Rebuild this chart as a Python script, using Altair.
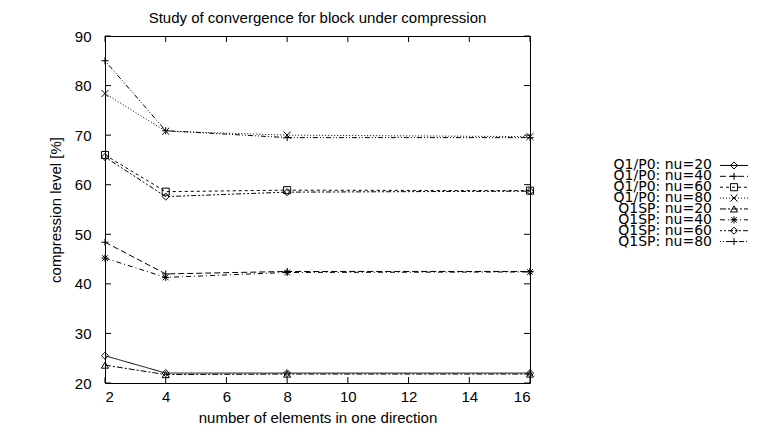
import altair as alt
import pandas as pd

x_vals = [2, 4, 8, 16]
series = ["Q1/P0: nu=20", "Q1/P0: nu=40", "Q1/P0: nu=60", "Q1/P0: nu=80",
          "Q1SP: nu=20", "Q1SP: nu=40", "Q1SP: nu=60", "Q1SP: nu=80"]
q1p0_nu20 = [25.5, 22.0, 22.0, 22.0]
q1p0_nu40 = [48.4, 42.0, 42.5, 42.5]
q1p0_nu60 = [66.0, 58.6, 58.9, 58.8]
q1p0_nu80 = [78.4, 70.8, 70.0, 69.7]
q1sp_nu20 = [23.6, 21.7, 21.8, 21.8]
q1sp_nu40 = [45.2, 41.3, 42.3, 42.4]
q1sp_nu60 = [65.6, 57.6, 58.5, 58.7]
q1sp_nu80 = [85.0, 70.9, 69.5, 69.5]
x_ticks = [2, 4, 6, 8, 10, 12, 14, 16]
y_ticks = [20, 30, 40, 50, 60, 70, 80, 90]

all_vals = [q1p0_nu20, q1p0_nu40, q1p0_nu60, q1p0_nu80,
            q1sp_nu20, q1sp_nu40, q1sp_nu60, q1sp_nu80]
rows = []
for s, vals in zip(series, all_vals):
    for x, v in zip(x_vals, vals):
        rows.append({"series": s, "x": x, "y": v})
df = pd.DataFrame(rows)
legend_df = pd.DataFrame({"series": series})
xt_df = pd.DataFrame({"v": x_ticks})
yt_df = pd.DataFrame({"v": y_ticks})

W, H = 425, 347
FONT = "Liberation Sans"
FS = 15

shapes = ["diamond", "M-1,0L1,0M0,-1L0,1", "square", "M-1,-1L1,1M-1,1L1,-1",
          "triangle-up", "M-1,0L1,0M0,-1L0,1M-0.8,-0.8L0.8,0.8M-0.8,0.8L0.8,-0.8",
          "diamond", "M-1,0L1,0M0,-1L0,1"]
dashes = [[1, 0], [6, 3], [3, 3], [1, 2], [6, 2, 2, 2], [5, 3, 1, 3],
          [2, 2, 2, 2, 5, 2], [1, 2, 1, 2, 5, 2]]

xs = alt.Scale(domain=[2, 16], nice=False, zero=False)
ys = alt.Scale(domain=[20, 90], nice=False, zero=False)
shape_enc = alt.Shape("series:N", scale=alt.Scale(domain=series, range=shapes), legend=None)
dash_enc = alt.StrokeDash("series:N", scale=alt.Scale(domain=series, range=dashes), legend=None)

base = alt.Chart(df)
lines = base.mark_line(color="black", strokeWidth=1).encode(
    x=alt.X("x:Q", scale=xs, title="number of elements in one direction",
            axis=alt.Axis(values=x_ticks, labelPadding=6, titlePadding=6)),
    y=alt.Y("y:Q", scale=ys, title="compression level [%]",
            axis=alt.Axis(values=y_ticks, labelPadding=14, titlePadding=11)),
    strokeDash=dash_enc,
    detail="series:N",
)
points = base.mark_point(color="black", strokeWidth=1, size=50, filled=False, opacity=1).encode(
    x=alt.X("x:Q", scale=xs), y=alt.Y("y:Q", scale=ys), shape=shape_enc,
)
tb = alt.Chart(xt_df).mark_rule(color="black", strokeWidth=1).encode(
    x=alt.X("v:Q", scale=xs), y=alt.value(H), y2=alt.value(H - 6))
tt = alt.Chart(xt_df).mark_rule(color="black", strokeWidth=1).encode(
    x=alt.X("v:Q", scale=xs), y=alt.value(0), y2=alt.value(6))
tl = alt.Chart(yt_df).mark_rule(color="black", strokeWidth=1).encode(
    y=alt.Y("v:Q", scale=ys), x=alt.value(0), x2=alt.value(6))
tr = alt.Chart(yt_df).mark_rule(color="black", strokeWidth=1).encode(
    y=alt.Y("v:Q", scale=ys), x=alt.value(W), x2=alt.value(W - 6))

main = alt.layer(lines, points, tb, tt, tl, tr)

ly = alt.Y("series:N", scale=alt.Scale(domain=series, range=[124, 211]), axis=None)
ltext = alt.Chart(legend_df).mark_text(align="right", baseline="middle", font="DejaVu Sans",
                                       fontSize=14, color="black").encode(
    y=ly, x=alt.value(607), text="series:N")
lrule = alt.Chart(legend_df).mark_rule(color="black", strokeWidth=1).encode(
    y=ly, x=alt.value(615), x2=alt.value(643), strokeDash=dash_enc)
lpt = alt.Chart(legend_df).mark_point(color="black", strokeWidth=1, size=50, filled=False, opacity=1).encode(
    y=ly, x=alt.value(629), shape=shape_enc)
legend = alt.layer(lrule, lpt, ltext)

chart = alt.layer(main, legend).resolve_scale(y="independent").properties(
    width=W, height=H,
    padding={"left": 40, "top": 3, "right": 0, "bottom": 0},
    title=alt.TitleParams("Study of convergence for block under compression",
                          font=FONT, fontSize=FS, fontWeight="normal", color="black",
                          anchor="middle", frame="group", offset=3),
).configure_view(stroke="black", strokeWidth=1).configure_axis(
    ticks=False, domain=False, grid=False, labelFont=FONT, labelFontSize=FS,
    labelColor="black", titleFont=FONT, titleFontSize=FS, titleFontWeight="normal",
    titleColor="black",
)

chart.save("out.html", embed_options={"renderer": "svg", "actions": False})
